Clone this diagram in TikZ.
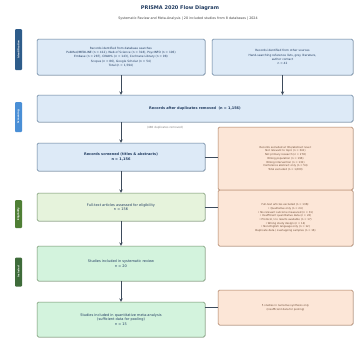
\documentclass[tikz,border=0pt]{standalone}
\usepackage{fontspec}
\setmainfont{DejaVu Sans}
\usetikzlibrary{positioning,arrows,shadows}
\definecolor{navy}{HTML}{1F3A5F}
\definecolor{idblue}{HTML}{2E5C8A}
\definecolor{scrblue}{HTML}{4A8FD6}
\definecolor{elgreen}{HTML}{4F7F35}
\definecolor{ingreen}{HTML}{3E6B3A}
\definecolor{boxblue}{HTML}{DDEAF7}
\definecolor{lineblue}{HTML}{5B7896}
\definecolor{boxgreen}{HTML}{E6F3DC}
\definecolor{linegreen}{HTML}{6E8F67}
\definecolor{boxmint}{HTML}{D3F3DD}
\definecolor{boxpeach}{HTML}{FCE6D7}
\definecolor{linebrown}{HTML}{A8785A}
\definecolor{txtbrown}{HTML}{6B4A34}
\definecolor{linkgray}{HTML}{3D4B5C}

\begin{document}
\begin{tikzpicture}[x=1pt,y=-1pt,>=stealth,
  box/.style={draw=lineblue, fill=boxblue, rounded corners=1.5pt, line width=0.5pt,
    align=center, text=navy, inner sep=1pt,
    font=\fontsize{2.9}{4.2}\selectfont,
    drop shadow={shadow xshift=0.5pt,shadow yshift=-0.7pt,opacity=0.3}},
  mainbox/.style={box, font=\fontsize{3.5}{4.6}\selectfont},
  exbox/.style={box, draw=linebrown, fill=boxpeach, text=txtbrown,
    font=\fontsize{2.6}{3.7}\selectfont},
  stage/.style={rotate=90, rounded corners=1pt, text=white, inner sep=0pt,
    minimum height=7pt, font=\fontsize{2.4}{2.4}\selectfont\bfseries},
  arrow/.style={->, draw=linkgray, line width=0.5pt},
  link/.style={draw=linkgray, line width=0.5pt}]

  \fill[white] (0,0) rectangle (354,338);
  \useasboundingbox (0,0) rectangle (354,338);

  \node[text=navy, font=\fontsize{5}{6}\selectfont\bfseries] (title) at (180,8) {PRISMA 2020 Flow Diagram};
  \node[text=darkgray, font=\fontsize{3.3}{4}\selectfont] (subtitle) at (188,19)
    {Systematic Review and Meta-Analysis | 20 included studies from 8 databases | 2024};

  \node[stage, fill=idblue, minimum width=41pt] (sId) at (18.5,49.5) {Identification};
  \node[stage, fill=scrblue, minimum width=30pt] (sScr) at (18.5,117) {Screening};
  \node[stage, fill=elgreen, minimum width=28pt] (sElig) at (18.5,214) {Eligibility};
  \node[stage, fill=ingreen, minimum width=29pt] (sIncl) at (18.5,272) {Included};

  \node[box, minimum width=168pt, minimum height=36pt] (idA) at (121,57)
    {Records identified from database searches\\
     PubMed/MEDLINE (n = 412), Web of Science (n = 318), PsycINFO (n = 196)\\
     Embase (n = 287), CINAHL (n = 143), Cochrane Library (n = 98)\\
     Scopus (n = 86), Google Scholar (n = 54)\\
     Total (n = 1,594)};
  \node[box, minimum width=141pt, minimum height=36pt] (idB) at (282.5,57)
    {Records identified from other sources\\
     Hand-searching reference lists, grey literature,\\
     author contact\\
     n = 42};

  \node[mainbox, minimum width=316pt, minimum height=27pt, font=\fontsize{3.5}{4.6}\selectfont\bfseries] (dup) at (195,108.5)
    {Records after duplicates removed \ (n = 1,156)};
  \node[text=gray, font=\fontsize{2.8}{3.4}\selectfont] (dupnote) at (165,128) {(480 duplicates removed)};

  \node[mainbox, minimum width=168pt, minimum height=28pt, font=\fontsize{3.5}{4.6}\selectfont\bfseries] (scr) at (121,157)
    {Records screened (titles \& abstracts)\\ n = 1,156};
  \node[exbox, minimum width=135pt, minimum height=63pt] (exc1) at (285.5,158.5)
    {Records excluded at title/abstract level:\\
     Not relevant to topic (n = 341)\\
     Not primary research (n = 278)\\
     Wrong population (n = 196)\\
     Wrong intervention (n = 131)\\
     Conference abstract only (n = 54)\\
     Total excluded (n = 1,000)};

  \node[mainbox, draw=linegreen, fill=boxgreen, minimum width=168pt, minimum height=28pt] (elig) at (121,207)
    {Full-text articles assessed for eligibility\\ n = 156};
  \node[exbox, minimum width=135pt, minimum height=56pt] (exc2) at (285.5,218)
    {Full-text articles excluded (n = 136):\\
     • Qualitative only (n = 24)\\
     • No relevant outcome measured (n = 31)\\
     • Insufficient quantitative data (n = 22)\\
     • Protocol / no results available (n = 17)\\
     • Wrong study design (n = 14)\\
     • Non-English language only (n = 12)\\
     Duplicate data / overlapping samples (n = 16)};

  \node[mainbox, draw=linegreen, fill=boxmint, minimum width=168pt, minimum height=35pt] (incl) at (121,263.5)
    {Studies included in systematic review\\ n = 20};
  \node[mainbox, draw=linegreen, fill=boxmint, minimum width=168pt, minimum height=35pt] (meta) at (121,319.5)
    {Studies included in quantitative meta-analysis\\ (sufficient data for pooling)\\ n = 15};
  \node[exbox, minimum width=135pt, minimum height=35pt] (narr) at (285.5,307.5)
    {5 studies in narrative synthesis only\\ (insufficient data for pooling)};

  \draw[arrow] (idA.south) -- (idA.south |- dup.north);
  \draw[arrow] (idB.south) -- (idB.south |- dup.north);
  \draw[arrow] (dup.south -| scr.north) -- (scr.north);
  \draw[arrow] (scr) -- (elig);
  \draw[arrow] (elig) -- (incl);
  \draw[arrow] (incl) -- (meta);
  \draw[link] (scr.east) -- (scr.east -| exc1.west);
  \draw[link] (elig.east) -- (elig.east -| exc2.west);
  \draw[link] (meta.east |- narr.west) -- (narr.west);
\end{tikzpicture}
\end{document}
